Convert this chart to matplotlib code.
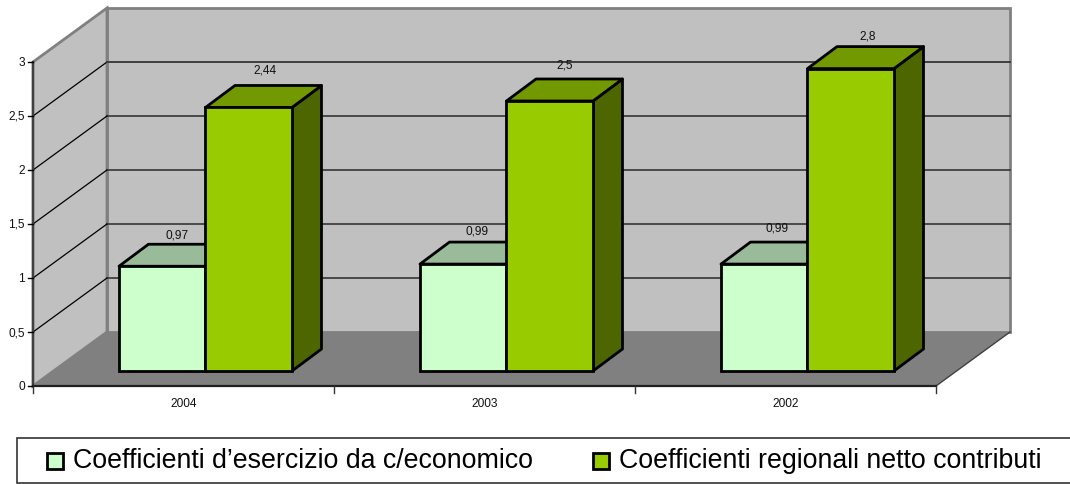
import matplotlib
matplotlib.use("Agg")
import matplotlib.pyplot as plt
from matplotlib.patches import Polygon, Rectangle

plt.rcParams['font.family'] = ['Liberation Sans', 'DejaVu Sans']

years = ["2004", "2003", "2002"]
esercizio = [0.97, 0.99, 0.99]
regionali = [2.44, 2.5, 2.8]
esercizio_labels = ["0,97", "0,99", "0,99"]
regionali_labels = ["2,44", "2,5", "2,8"]
y_ticks = [0, 0.5, 1, 1.5, 2, 2.5, 3]
y_tick_labels = ["0", "0,5", "1", "1,5", "2", "2,5", "3"]

W, H = 1070, 484
PX_X = 301.0   # pixels for one category
PX_Y = 108.0   # pixels for one unit
X0, Y0 = 33, 386

# depth of the whole chart and of the bars, in data units
DX, DY = 74 / PX_X, 54 / PX_Y
BX, BY = 29.5 / PX_X, 22 / PX_Y
SX, SY = 20.5 / PX_X, 15 / PX_Y
BAR_W = 86.5 / PX_X
BAR_START = 0.2857

# pixel nudges of the value labels (dx, dy above the bar top)
nudge_esercizio = [(0, 9), (-1, 11), (-2, 14)]
nudge_regionali = [(2, 15), (0, 13), (2, 10)]

fig = plt.figure(figsize=(W / 100, H / 100), dpi=100)
ax = fig.add_axes([0, 0, 1, 1])
ax.set_xlim(-X0 / PX_X, (W - X0) / PX_X)
ax.set_ylim((Y0 - H) / PX_Y, Y0 / PX_Y)
ax.axis("off")

n = len(years)
top = y_ticks[-1]

# walls and floor
ax.add_patch(Polygon([(DX, 0 + DY), (DX + n, DY), (DX + n, top + DY), (DX, top + DY)],
                     fc="#c0c0c0", ec="#808080", lw=2, zorder=1))
ax.add_patch(Polygon([(0, 0), (DX, DY), (DX, top + DY), (0, top)],
                     fc="#c0c0c0", ec="#808080", lw=2, zorder=1))
ax.add_patch(Polygon([(0, 0), (DX, DY), (DX + n, DY), (n, 0)], fc="#808080", ec="none", zorder=2))
ax.plot([n, n + DX], [0, DY], color="#404040", lw=1, zorder=2)

# gridlines
for t in y_ticks[1:-1]:
    ax.plot([DX, DX + n], [t + DY, t + DY], color="#404040", lw=1.3, zorder=2)
    ax.plot([0, DX], [t, t + DY], color="black", lw=0.9, zorder=2)
ax.plot([DX, DX + n], [top, top], color="#404040", lw=1.3, zorder=2)

# axes
ax.plot([0, 0], [0, top], color="#404040", lw=1.6, zorder=3)
ax.plot([0, n], [0, 0], color="#202020", lw=1.6, zorder=3)
for t, lab in zip(y_ticks, y_tick_labels):
    ax.plot([-5 / PX_X, 0], [t, t], color="black", lw=1, zorder=3)
    ax.text(-8 / PX_X, t - 1 / PX_Y, lab, ha="right", va="center", fontsize=8.6, color="#111111")
for i in range(n + 1):
    ax.plot([i, i], [0, -7 / PX_Y], color="#333333", lw=1, zorder=3)
for i, y in enumerate(years):
    ax.text(i + 0.5, -18 / PX_Y, y, ha="center", va="center", fontsize=8.6, color="#111111")


def draw_bar(x, v, front, topc, side, z):
    ax.add_patch(Polygon([(x + BAR_W, SY), (x + BAR_W + BX, SY + BY), (x + BAR_W + BX, SY + v + BY), (x + BAR_W, SY + v)],
                         fc=side, ec="black", lw=2, joinstyle="round", zorder=z))
    ax.add_patch(Polygon([(x, SY + v), (x + BX, SY + v + BY), (x + BAR_W + BX, SY + v + BY), (x + BAR_W, SY + v)],
                         fc=topc, ec="black", lw=2, joinstyle="round", zorder=z))
    ax.add_patch(Rectangle((x, SY), BAR_W, v, fc=front, ec="black", lw=2, zorder=z + 0.5))


for i in range(n):
    x1 = i + BAR_START
    x2 = x1 + BAR_W
    draw_bar(x1, esercizio[i], "#ccffcc", "#99bb99", "#668866", 4)
    draw_bar(x2, regionali[i], "#99cc00", "#739900", "#4d6600", 5)
    ax.text(x1 + BAR_W / 2 + BX / 2 + nudge_esercizio[i][0] / PX_X,
            SY + esercizio[i] + BY + nudge_esercizio[i][1] / PX_Y, esercizio_labels[i],
            ha="center", va="center", fontsize=8.6, color="#111111", zorder=7)
    ax.text(x2 + BAR_W / 2 + BX / 2 + nudge_regionali[i][0] / PX_X,
            SY + regionali[i] + BY + nudge_regionali[i][1] / PX_Y, regionali_labels[i],
            ha="center", va="center", fontsize=8.6, color="#111111", zorder=7)

# legend box, placed in axes pixels
leg = fig.add_axes([0, 0, 1, 1], facecolor="none")
leg.set_xlim(0, W)
leg.set_ylim(H, 0)
leg.axis("off")
leg.add_patch(Rectangle((16.5, 438), W, 45, fc="white", ec="#333333", lw=1.2))
legend_names = ["Coefficienti d\u2019esercizio da c/economico", "Coefficienti regionali netto contributi"]
legend_colors = ["#ccffcc", "#99cc00"]
for sx, name, col in zip([47, 593], legend_names, legend_colors):
    leg.add_patch(Rectangle((sx, 453), 16, 16, fc=col, ec="black", lw=2))
    leg.text(sx + 26, 461, name, ha="left", va="center", fontsize=19.3, color="black")

fig.savefig("out.png", dpi=100)
